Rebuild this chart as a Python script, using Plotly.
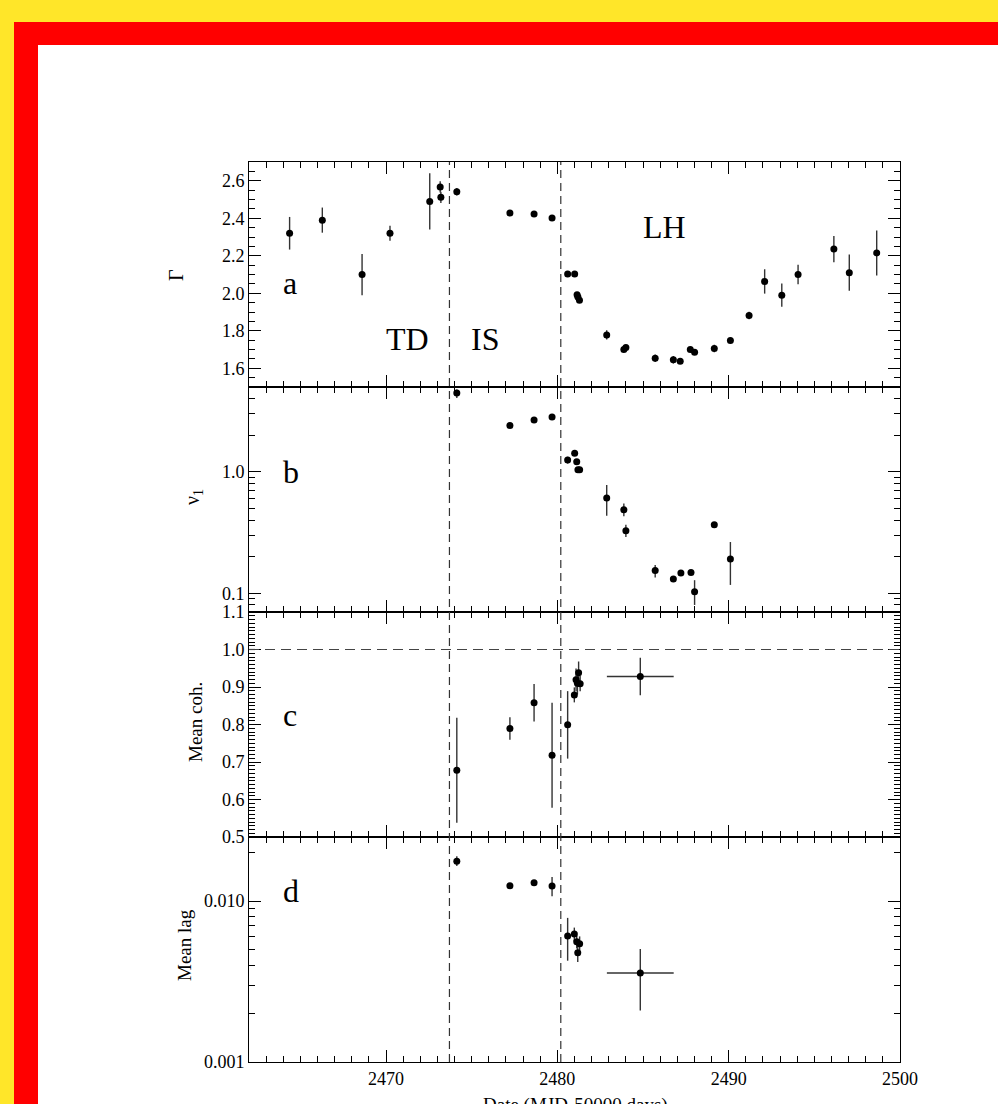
import math
import plotly.graph_objects as go
from plotly.subplots import make_subplots

# ---------------- data ----------------
gamma_day = [2464.37, 2466.28, 2468.6, 2470.23, 2472.55, 2473.16, 2473.2, 2474.13,
             2477.23, 2478.64, 2479.69, 2480.6, 2481.01, 2481.15, 2481.2, 2481.29,
             2482.88, 2483.88, 2484.0, 2485.71, 2486.77, 2487.17, 2487.76, 2488.01,
             2489.16, 2490.1, 2491.19, 2492.1, 2493.1, 2494.05, 2496.14, 2497.04, 2498.64]
gamma = [2.32, 2.39, 2.10, 2.32, 2.49, 2.567, 2.512, 2.542, 2.428, 2.423, 2.402, 2.103,
         2.103, 1.992, 1.98, 1.963, 1.778, 1.70, 1.711, 1.654, 1.645, 1.638, 1.70, 1.686,
         1.705, 1.748, 1.882, 2.063, 1.99, 2.10, 2.236, 2.11, 2.215]
gamma_err = [0.087, 0.067, 0.11, 0.04, 0.15, 0.03, 0.03, 0.02, 0.01, 0.01, 0.01, 0.01,
             0.01, 0.01, 0.01, 0.01, 0.025, 0.01, 0.01, 0.02, 0.02, 0.01, 0.01, 0.01,
             0.02, 0.01, 0.02, 0.065, 0.062, 0.052, 0.07, 0.097, 0.12]

nu_day = [2474.13, 2477.23, 2478.64, 2479.69, 2480.6, 2481.01, 2481.13, 2481.2, 2481.3,
          2482.88, 2483.88, 2484.0, 2485.71, 2486.77, 2487.21, 2487.8, 2488.01, 2489.16, 2490.1]
nu = [4.46, 2.41, 2.67, 2.83, 1.25, 1.42, 1.21, 1.04, 1.04, 0.61, 0.488, 0.327, 0.154,
      0.131, 0.147, 0.148, 0.103, 0.367, 0.191]
nu_err_plus = [0.3, 0.05, 0.05, 0.06, 0.08, 0.04, 0.04, 0.03, 0.03, 0.17, 0.06, 0.04,
               0.017, 0.006, 0.005, 0.005, 0.025, 0.01, 0.073]
nu_err_minus = [0.4, 0.05, 0.05, 0.06, 0.08, 0.04, 0.04, 0.03, 0.03, 0.175, 0.058, 0.037,
                0.019, 0.006, 0.005, 0.005, 0.023, 0.01, 0.074]

coh_day = [2474.13, 2477.23, 2478.64, 2479.69, 2480.6, 2480.99, 2481.09, 2481.17,
           2481.24, 2481.33, 2484.84]
coh = [0.678, 0.789, 0.858, 0.718, 0.799, 0.879, 0.919, 0.91, 0.938, 0.909, 0.928]
coh_err = [0.14, 0.03, 0.05, 0.14, 0.09, 0.02, 0.03, 0.03, 0.03, 0.02, 0.05]
coh_xerr = [0, 0, 0, 0, 0, 0, 0, 0, 0, 0, 1.95]

lag_day = [2474.13, 2477.23, 2478.64, 2479.69, 2480.6, 2480.99, 2481.13, 2481.19,
           2481.3, 2484.84]
lag = [0.0177, 0.01245, 0.0130, 0.0124, 0.00606, 0.00624, 0.00558, 0.00478, 0.00543, 0.00357]
lag_err_plus = [0.0013, 0.0003, 0.0005, 0.0017, 0.0018, 0.0006, 0.0005, 0.0005, 0.0006, 0.00146]
lag_err_minus = [0.0012, 0.0003, 0.0005, 0.0017, 0.0018, 0.0006, 0.0005, 0.0006, 0.0005, 0.00148]
lag_xerr = [0, 0, 0, 0, 0, 0, 0, 0, 0, 1.95]

state_boundaries = [2473.7, 2480.2]
coh_reference = 1.0

# ---------------- layout helpers ----------------
W, H = 998, 1104
def px(x):
    return x / W
def py(y):
    return 1 - y / H

FONT = "Liberation Serif, Times New Roman, serif"
INK = "black"
ERR = "#333333"

fig = make_subplots(rows=4, cols=1, shared_xaxes=True, vertical_spacing=0)

mk = dict(color=INK, size=7)
fig.add_trace(go.Scatter(x=gamma_day, y=gamma, mode="markers", marker=mk,
                         error_y=dict(type="data", array=gamma_err, color=ERR, thickness=1.4, width=0)),
              row=1, col=1)
fig.add_trace(go.Scatter(x=nu_day, y=nu, mode="markers", marker=mk,
                         error_y=dict(type="data", symmetric=False, array=nu_err_plus,
                                      arrayminus=nu_err_minus, color=ERR, thickness=1.4, width=0)),
              row=2, col=1)
fig.add_trace(go.Scatter(x=coh_day, y=coh, mode="markers", marker=mk,
                         error_y=dict(type="data", array=coh_err, color=ERR, thickness=1.4, width=0),
                         error_x=dict(type="data", array=coh_xerr, color=ERR, thickness=1.4, width=0)),
              row=3, col=1)
fig.add_trace(go.Scatter(x=lag_day, y=lag, mode="markers", marker=mk,
                         error_y=dict(type="data", symmetric=False, array=lag_err_plus,
                                      arrayminus=lag_err_minus, color=ERR, thickness=1.4, width=0),
                         error_x=dict(type="data", array=lag_xerr, color=ERR, thickness=1.4, width=0)),
              row=4, col=1)

panel_px = [(162, 387), (387, 612), (612, 837), (837, 1062)]
xdom = [px(249), px(900)]

for i, (top, bot) in enumerate(panel_px, start=1):
    fig.update_xaxes(row=i, col=1, domain=xdom, range=[2462, 2500], tick0=2470, dtick=10,
                     showline=True, linecolor=INK, linewidth=1, mirror="ticks",
                     ticks="inside", ticklen=12, tickwidth=1, tickcolor=INK,
                     minor=dict(dtick=1, ticklen=6, ticks="inside", tickcolor=INK, tickwidth=1),
                     showgrid=False, zeroline=False, automargin=False,
                     showticklabels=(i == 4),
                     tickfont=dict(family=FONT, size=18, color=INK))
    fig.update_yaxes(row=i, col=1, domain=[py(bot), py(top)],
                     showline=True, linecolor=INK, linewidth=1, mirror="ticks",
                     ticks="inside", ticklen=12, tickwidth=1, tickcolor=INK,
                     showgrid=False, zeroline=False, automargin=False,
                     tickfont=dict(family=FONT, size=18, color=INK))

fig.update_yaxes(row=1, col=1, range=[1.5, 2.7], tick0=1.6, dtick=0.2, tickformat=".1f",
                 minor=dict(dtick=0.05, ticklen=6, ticks="inside", tickcolor=INK))
fig.update_yaxes(row=2, col=1, type="log", range=[math.log10(0.07), math.log10(5)],
                 tickmode="array", tickvals=[0.1, 1.0], ticktext=["0.1", "1.0"],
                 minor=dict(tickmode="array",
                            tickvals=[0.08, 0.09, 0.2, 0.3, 0.4, 0.5, 0.6, 0.7, 0.8, 0.9, 2, 3, 4, 5],
                            ticklen=6, ticks="inside", tickcolor=INK))
fig.update_yaxes(row=3, col=1, range=[0.5, 1.1], tick0=0.5, dtick=0.1, tickformat=".1f",
                 minor=dict(dtick=0.01, ticklen=6, ticks="inside", tickcolor=INK))
fig.update_yaxes(row=4, col=1, type="log", range=[-3, math.log10(0.025)],
                 tickmode="array", tickvals=[0.001, 0.01], ticktext=["0.001", "0.010"],
                 minor=dict(tickmode="array",
                            tickvals=[0.002, 0.003, 0.004, 0.005, 0.006, 0.007, 0.008, 0.009, 0.02],
                            ticklen=6, ticks="inside", tickcolor=INK))

shapes = [
    dict(type="rect", xref="paper", yref="paper", x0=px(14), x1=1, y0=0, y1=py(22),
         fillcolor="#FF0000", line=dict(width=0), layer="below"),
    dict(type="rect", xref="paper", yref="paper", x0=px(38), x1=1, y0=0, y1=py(45),
         fillcolor="white", line=dict(width=0), layer="below"),
]
for b in state_boundaries:
    shapes.append(dict(type="line", xref="x4", yref="paper", x0=b, x1=b,
                       y0=py(1062), y1=py(162),
                       line=dict(color="#333333", width=1.2, dash="8px,5px"), layer="above"))
shapes.append(dict(type="line", xref="x3 domain", yref="y3", x0=0, x1=1,
                   y0=coh_reference, y1=coh_reference,
                   line=dict(color="#444444", width=1.2, dash="10px,6px"), layer="above"))

def txt(s, x, y, size=32, angle=0):
    return dict(text=s, xref="paper", yref="paper", x=px(x), y=py(y), showarrow=False,
                xanchor="center", yanchor="middle", textangle=angle,
                font=dict(family=FONT, size=size, color=INK))

annotations = [
    txt("a", 290, 283), txt("TD", 407, 339), txt("IS", 485, 339), txt("LH", 664, 227),
    txt("b", 291, 472), txt("c", 290, 715), txt("d", 291, 891),
    txt("Γ", 176, 275, size=20, angle=-90),
    txt("ν<sub>1</sub>", 194, 497, size=20, angle=-90),
    txt("Mean coh.", 195, 722, size=19, angle=-90),
    txt("Mean lag", 184, 945, size=19, angle=-90),
    dict(text="Date (MJD-50000 days)", xref="paper", yref="paper", x=px(575), y=py(1092),
         showarrow=False, xanchor="center", yanchor="top",
         font=dict(family=FONT, size=19, color=INK)),
]

fig.update_layout(width=W, height=H, autosize=False,
                  margin=dict(l=0, r=0, t=0, b=0, autoexpand=False),
                  paper_bgcolor="#FFE629", plot_bgcolor="rgba(0,0,0,0)",
                  showlegend=False, shapes=shapes, annotations=annotations,
                  font=dict(family=FONT, color=INK))

fig.write_html("out.html",
               config={"displayModeBar": False, "responsive": False},
               post_script="document.body.style.margin='0';document.body.style.overflow='hidden';")
